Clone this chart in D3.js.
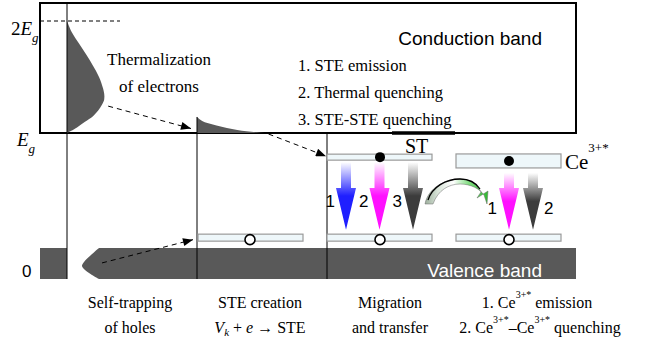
<!DOCTYPE html>
<html>
<head>
<meta charset="utf-8">
<script src="https://cdn.jsdelivr.net/npm/d3@7"></script>
<style>
  body { margin: 0; background: #fff; }
  svg { display: block; }
</style>
</head>
<body>
<svg id="chart"></svg>
<script>
// energies in units of Eg, valence band top = 0
const bandEdges = [0, 1, 2];
const energyLabels = ["0", "E", "2E"];
const valenceBottom = -0.27;

// hot electron distribution (energy, relative density)
const hotE = [2.0, 1.9, 1.8, 1.7, 1.6, 1.5, 1.4, 1.35, 1.3, 1.25, 1.2, 1.15, 1.1, 1.05, 1.0];
const hotDensity = [0, 0.12, 0.3, 0.48, 0.65, 0.8, 0.9, 0.93, 0.93, 0.87, 0.78, 0.65, 0.45, 0.25, 0];

// thermalized electron tail above Eg (stage offset, height in Eg)
const tailOffset = [0, 0.04, 0.08, 0.15, 0.23, 0.31, 0.38, 0.46, 0.52];
const tailHeight = [0.143, 0.107, 0.089, 0.067, 0.045, 0.027, 0.016, 0.007, 0];

// self-trapped hole distribution inside valence band
const holeE = [0, -0.061, -0.122, -0.157, -0.191, -0.235, -0.27];
const holeDepth = [0, 0.2, 0.375, 0.425, 0.35, 0.175, 0];

// localized levels
const steLevel = 0.79;
const ceLevel = 0.757;
const groundLevel = 0.09;

const steChannels = ["1", "2", "3"];
const steColors = ["#1f1fff", "#ff10ff", "#3c3c3c"];
const ceChannels = ["1", "2"];
const ceColors = ["#ff10ff", "#3c3c3c"];

const processList = ["1. STE emission", "2. Thermal quenching", "3. STE-STE quenching"];
const stageTop = ["Self-trapping", "STE creation", "Migration"];
const stageBottom = ["of holes", null, "and transfer"];

const SERIF = "'Liberation Serif', Tinos, 'Times New Roman', 'DejaVu Serif', serif";
const SANS = "'Liberation Sans', Arimo, Arial, sans-serif";

const W = 652, H = 350;
const svg = d3.select("#chart").attr("width", W).attr("height", H);

const x = d3.scaleLinear().domain([0, 3]).range([67, 457]);
const y = d3.scaleLinear().domain([valenceBottom, 0, 1, 2]).range([279, 248, 133, 21]);
const dens = d3.scaleLinear().domain([0, 1]).range([0, 40]);
const stageW = x(1) - x(0);

const defs = svg.append("defs");
defs.append("marker").attr("id", "head")
  .attr("viewBox", "0 0 10 8").attr("refX", 10).attr("refY", 4)
  .attr("markerWidth", 11).attr("markerHeight", 8).attr("markerUnits", "userSpaceOnUse")
  .attr("orient", "auto")
  .append("path").attr("d", "M0,0L10,4L0,8Z").attr("fill", "#000");

function grad(id, color) {
  const g = defs.append("linearGradient").attr("id", id)
    .attr("x1", 0).attr("y1", 0).attr("x2", 0).attr("y2", 1);
  g.append("stop").attr("offset", 0).attr("stop-color", "#fff");
  g.append("stop").attr("offset", 0.5).attr("stop-color", color);
  g.append("stop").attr("offset", 1).attr("stop-color", color);
}
steColors.forEach((c, i) => grad("g" + i, c));
const gg = defs.append("linearGradient").attr("id", "green")
  .attr("x1", 0).attr("y1", 0).attr("x2", 1).attr("y2", 0);
gg.append("stop").attr("offset", 0).attr("stop-color", "#9cae9c");
gg.append("stop").attr("offset", 0.2).attr("stop-color", "#d8e4d8");
gg.append("stop").attr("offset", 0.45).attr("stop-color", "#ffffff");
gg.append("stop").attr("offset", 0.7).attr("stop-color", "#7fdc7f");
gg.append("stop").attr("offset", 1).attr("stop-color", "#2fb82f");

const boxL = 40, boxR = 576;

// valence band
svg.append("rect").attr("x", boxL).attr("y", y(0)).attr("width", boxR - boxL)
  .attr("height", y(valenceBottom) - y(0)).attr("fill", "#595959");
svg.append("rect").attr("x", x(0)).attr("y", y(0)).attr("width", 33)
  .attr("height", y(valenceBottom) - y(0)).attr("fill", "#fff");
const holeArea = d3.area()
  .y(d => y(d[0]))
  .x0(x(0) + 34)
  .x1(d => x(0) + 32 - dens(d[1]))
  .curve(d3.curveCatmullRom);
svg.append("path").datum(d3.zip(holeE, holeDepth)).attr("d", holeArea).attr("fill", "#595959");
svg.append("text").attr("font-family", SANS).attr("x", 542).attr("y", 277)
  .attr("text-anchor", "end").attr("font-size", 19).attr("fill", "#fff").text("Valence band");

// conduction band box
svg.append("rect").attr("x", boxL).attr("y", 3).attr("width", boxR - boxL)
  .attr("height", y(1) - 3).attr("fill", "none").attr("stroke", "#000").attr("stroke-width", 2);
svg.append("line").attr("x1", 392).attr("x2", 455).attr("y1", y(1)).attr("y2", y(1))
  .attr("stroke", "#000").attr("stroke-width", 3.5);

// 2Eg dashed level
svg.append("line").attr("x1", boxL).attr("x2", 120).attr("y1", y(2)).attr("y2", y(2))
  .attr("stroke", "#000").attr("stroke-dasharray", "4,3");

// hot electrons
const hotArea = d3.area()
  .y(d => y(d[0]))
  .x0(x(0))
  .x1(d => x(0) + dens(d[1]))
  .curve(d3.curveCatmullRom);
svg.append("path").datum(d3.zip(hotE, hotDensity)).attr("d", hotArea).attr("fill", "#595959");

// thermalized tail
const tailArea = d3.area()
  .x(d => x(1) + d[0] * stageW)
  .y0(y(1))
  .y1(d => y(1 + d[1]))
  .curve(d3.curveMonotoneX);
svg.append("path").datum(d3.zip(tailOffset, tailHeight)).attr("d", tailArea).attr("fill", "#595959");

// stage dividers
svg.append("line").attr("x1", x(0)).attr("x2", x(0)).attr("y1", 3).attr("y2", y(valenceBottom)).attr("stroke", "#000");
svg.append("line").attr("x1", x(1)).attr("x2", x(1)).attr("y1", y(1 + tailHeight[0])).attr("y2", y(valenceBottom)).attr("stroke", "#000");
svg.append("line").attr("x1", x(2)).attr("x2", x(2)).attr("y1", y(1)).attr("y2", y(valenceBottom)).attr("stroke", "#000");

// energy labels
energyLabels.forEach((lab, i) => {
  const e = bandEdges[i];
  if (e === 0) {
    svg.append("text").attr("font-family", SANS).attr("x", 22).attr("y", 277)
      .attr("font-size", 17).text(lab);
    return;
  }
  const t = svg.append("text").attr("font-family", SERIF)
    .attr("x", e === 2 ? 11 : 17).attr("y", e === 2 ? y(e) + 14 : y(e) + 13)
    .attr("font-size", 19);
  if (lab.startsWith("2")) { t.append("tspan").text("2"); }
  t.append("tspan").attr("font-style", "italic").text("E");
  t.append("tspan").attr("font-style", "italic").attr("font-size", 13).attr("dy", 7).text("g");
});

// texts in the conduction band
svg.append("text").attr("font-family", SERIF).attr("x", 159).attr("y", 65)
  .attr("text-anchor", "middle").attr("font-size", 17).text("Thermalization");
svg.append("text").attr("font-family", SERIF).attr("x", 159).attr("y", 92)
  .attr("text-anchor", "middle").attr("font-size", 17).text("of electrons");
svg.append("text").attr("font-family", SANS).attr("x", 542).attr("y", 45)
  .attr("text-anchor", "end").attr("font-size", 19).text("Conduction band");
svg.selectAll(".proc").data(processList).join("text").attr("class", "proc")
  .attr("font-family", SERIF)
  .attr("x", 298).attr("y", (d, i) => 71 + i * 27).attr("font-size", 16.5).text(d => d);

// dashed transfer arrows
function dashed(x1, y1, x2, y2) {
  svg.append("line").attr("x1", x1).attr("y1", y1).attr("x2", x2).attr("y2", y2)
    .attr("stroke", "#000").attr("stroke-dasharray", "5,4").attr("marker-end", "url(#head)");
}
dashed(x(0) + dens(1.03), y(1.24), x(1) - 6, y(1.04));
dashed(x(1) + 0.55 * stageW, y(1) + 1, x(2) - 1, y(steLevel) - 1);
dashed(x(0) + 35, y(-0.13), x(1) - 4, y(groundLevel) + 2);

// levels
function level(x0, e, h) {
  svg.append("rect").attr("x", x0).attr("y", y(e) - h / 2).attr("width", 105).attr("height", h)
    .attr("fill", "#eef7fa").attr("stroke", "#9a9a9a").attr("stroke-width", 1.2);
}
level(x(1) + 1, groundLevel, 7);
level(x(2), steLevel, 6);
level(x(2), groundLevel, 7);
level(x(3) - 1, ceLevel, 14);
level(x(3) - 1, groundLevel, 7);

// vertical radiative/nonradiative arrows
function bigArrow(cx, top, color) {
  const tip = y(groundLevel) - 8, hs = 188;
  const p = `M${cx - 5},${top}L${cx + 5},${top}L${cx + 5},${hs}L${cx + 10},${hs}L${cx},${tip}L${cx - 10},${hs}L${cx - 5},${hs}Z`;
  svg.append("path").attr("d", p).attr("fill", `url(#g${color})`);
}
steChannels.forEach((n, i) => {
  const cx = x(2) + 19 + i * 33.5;
  bigArrow(cx, y(steLevel) + 5, i);
  svg.append("text").attr("font-family", SANS).attr("x", cx - 11).attr("y", 207)
    .attr("text-anchor", "end").attr("font-size", 17).text(n);
});
ceChannels.forEach((n, i) => {
  const cx = x(3) + 52 + i * 24;
  bigArrow(cx, y(ceLevel) + 12, steColors.indexOf(ceColors[i]));
  svg.append("text").attr("font-family", SANS).attr("x", i === 0 ? cx - 12 : cx + 11).attr("y", 214)
    .attr("text-anchor", i === 0 ? "end" : "start").attr("font-size", 17).text(n);
});

// electrons and holes
svg.append("circle").attr("cx", x(2) + 53).attr("cy", y(steLevel)).attr("r", 5).attr("fill", "#000");
svg.append("circle").attr("cx", x(3) + 52).attr("cy", y(ceLevel)).attr("r", 5).attr("fill", "#000");
[x(1) + 53, x(2) + 53, x(3) + 52].forEach(cx => {
  svg.append("circle").attr("cx", cx).attr("cy", y(groundLevel) + 2).attr("r", 5)
    .attr("fill", "#fff").attr("stroke", "#000").attr("stroke-width", 1.6);
});

// energy transfer arrow STE -> Ce
svg.append("path")
  .attr("d", "M425,204 C428,188 445,179 460,179 C470,179 477,184 481,192 L477,198 L488,191 L487,204 L484,195 C480,189 471,184 460,184 C449,184 438,190 433,204 Z")
  .attr("fill", "url(#green)").attr("stroke", "#6a6a6a").attr("stroke-width", 0.5);
svg.append("path").attr("d", "M428,200 C432,187 446,179 460,179 C469,179 476,183 480,189")
  .attr("fill", "none").attr("stroke", "#000").attr("stroke-width", 1.3);

// ST and Ce labels
svg.append("text").attr("font-family", SERIF).attr("x", 405).attr("y", 153).attr("font-size", 20).text("ST");
const ce = svg.append("text").attr("font-family", SERIF).attr("x", 565).attr("y", 169).attr("font-size", 21);
ce.append("tspan").text("Ce");
ce.append("tspan").attr("font-size", 13).attr("dy", -17).text("3+*");

// bottom stage captions
const cap = svg.append("g").attr("font-family", SERIF).attr("font-size", 16).attr("text-anchor", "middle");
stageTop.forEach((t, i) => {
  cap.append("text").attr("x", x(i) + 63).attr("y", 308).text(t);
  if (stageBottom[i]) cap.append("text").attr("x", x(i) + 63).attr("y", 333).text(stageBottom[i]);
});
const reac = cap.append("text").attr("x", x(1) + 63).attr("y", 333);
reac.append("tspan").attr("font-style", "italic").text("V");
reac.append("tspan").attr("font-style", "italic").attr("font-size", 11).attr("dy", 3).text("k");
reac.append("tspan").attr("dy", -3).text(" + ");
reac.append("tspan").attr("font-style", "italic").text("e");
reac.append("tspan").text(" \u2192 STE");

const c1 = cap.append("text").attr("x", 537).attr("y", 308);
c1.append("tspan").text("1. Ce");
c1.append("tspan").attr("font-size", 10).attr("dy", -10).text("3+*");
c1.append("tspan").attr("dy", 10).text(" emission");
const c2 = cap.append("text").attr("x", 540).attr("y", 333);
c2.append("tspan").text("2. Ce");
c2.append("tspan").attr("font-size", 10).attr("dy", -10).text("3+*");
c2.append("tspan").attr("dy", 10).text("\u2013Ce");
c2.append("tspan").attr("font-size", 10).attr("dy", -10).text("3+*");
c2.append("tspan").attr("dy", 10).text(" quenching");
</script>
</body>
</html>
